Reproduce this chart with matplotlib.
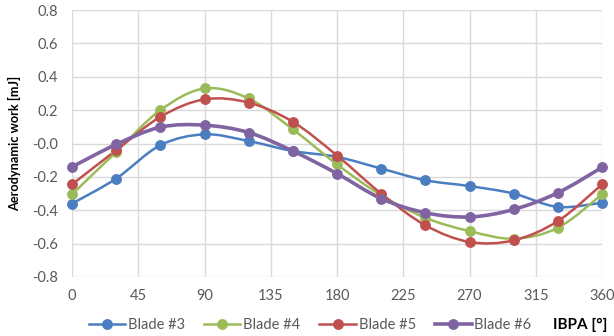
import numpy as np
import matplotlib
matplotlib.use('Agg')
import matplotlib.pyplot as plt
from matplotlib.path import Path
from matplotlib.patches import PathPatch
from matplotlib.lines import Line2D

plt.rcParams['font.family'] = ['Lato', 'DejaVu Sans']
plt.rcParams['axes.unicode_minus'] = False

# IBPA angles [deg]
ibpa = [0, 30, 60, 90, 120, 150, 180, 210, 240, 270, 300, 330, 360]

# aerodynamic work [mJ] per blade
blade3 = [-0.36, -0.21, -0.01, 0.055, 0.015, -0.045, -0.08, -0.15, -0.22, -0.255, -0.30, -0.38, -0.355]
blade4 = [-0.305, -0.05, 0.20, 0.33, 0.27, 0.085, -0.125, -0.31, -0.445, -0.525, -0.57, -0.505, -0.305]
blade5 = [-0.245, -0.04, 0.16, 0.265, 0.245, 0.13, -0.072, -0.30, -0.49, -0.59, -0.58, -0.465, -0.245]
blade6 = [-0.14, -0.005, 0.098, 0.11, 0.066, -0.045, -0.18, -0.33, -0.415, -0.44, -0.395, -0.295, -0.143]

labels = ['Blade #3', 'Blade #4', 'Blade #5', 'Blade #6']
colors = ['#4A7EC0', '#9BBB59', '#C0504D', '#8064A2']
widths = [1.8, 1.8, 1.8, 2.6]


def smooth_path(x, y):
    '''Excel style smoothed line: cubic bezier through the points'''
    pts = np.column_stack([x, y]).astype(float)
    n = len(pts)
    verts = [pts[0]]
    codes = [Path.MOVETO]
    for i in range(n - 1):
        p0 = pts[max(i - 1, 0)]
        p1 = pts[i]
        p2 = pts[i + 1]
        p3 = pts[min(i + 2, n - 1)]
        c1 = p1 + (p2 - p0) / 6.0
        c2 = p2 - (p3 - p1) / 6.0
        verts += [c1, c2, p2]
        codes += [Path.CURVE4] * 3
    return Path(verts, codes)


fig = plt.figure(figsize=(6.14, 3.36), dpi=100)
ax = fig.add_axes([0.1173, 0.1756, 0.8632, 0.7944])

handles = []
for yv, lab, c, lw in zip([blade3, blade4, blade5, blade6], labels, colors, widths):
    ax.add_patch(PathPatch(smooth_path(ibpa, yv), facecolor='none',
                           edgecolor=c, lw=lw, clip_on=False, zorder=3))
    ax.plot(ibpa, yv, 'o', color=c, ms=6.8, clip_on=False, zorder=4)
    handles.append(Line2D([], [], color=c, lw=lw, marker='o', ms=6.8))

ax.set_xlim(0, 360)
ax.set_ylim(-0.8, 0.8)
ax.set_xticks(np.arange(0, 361, 45))
ax.set_yticks(np.arange(-0.8, 0.81, 0.2))
ax.set_yticklabels([f'{v:.1f}' for v in np.arange(-0.8, 0.81, 0.2)])
ax.grid(True, color='#D9D9D9', lw=1.0)
ax.set_axisbelow(True)
for s in ax.spines.values():
    s.set_visible(False)
ax.tick_params(length=0, labelsize=10.5, labelcolor='#595959')
ax.tick_params(axis='y', pad=10)
ax.tick_params(axis='x', pad=9)

ax.set_ylabel('Aerodynamic work [mJ]', fontsize=9.2, fontweight='bold', labelpad=8)
fig.text(0.99, 0.033, 'IBPA [°]', fontsize=11, fontweight='bold',
         ha='right', va='center')

fig.legend(handles, labels, loc='center', bbox_to_anchor=(0.505, 0.033), ncol=4,
           frameon=False, fontsize=10.5, handlelength=2.5, columnspacing=1.3,
           handletextpad=0.2, labelcolor='#595959')

fig.savefig('out.png', dpi=100)
